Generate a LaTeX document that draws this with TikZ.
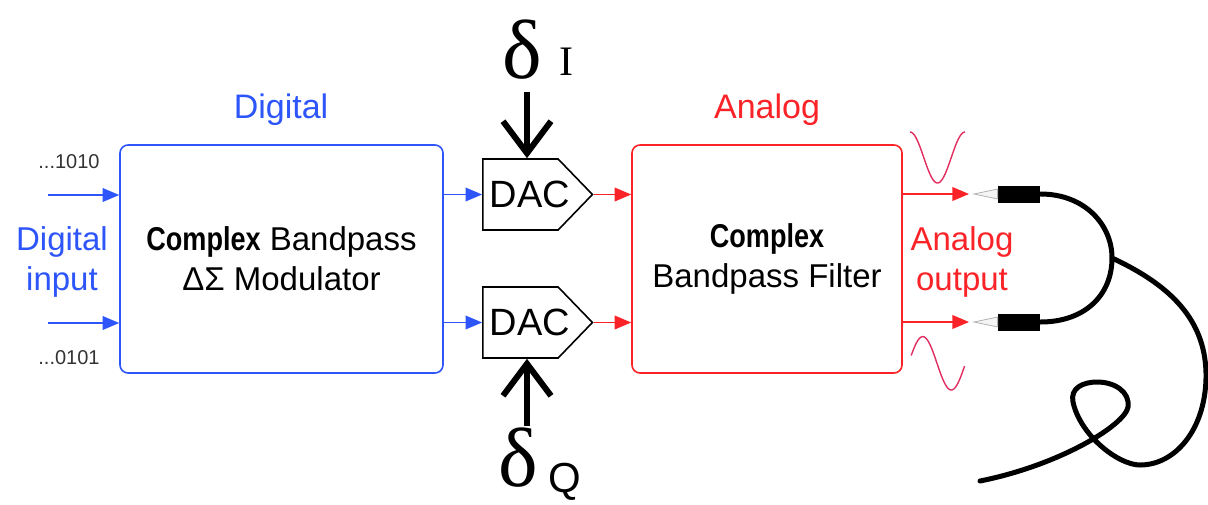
\documentclass[tikz,border=0pt]{standalone}
\usepackage{fontspec}
\setmainfont{Liberation Sans}
\newfontfamily\heavyfont{Liberation Sans}[FakeStretch=0.82]
\newfontfamily\serifgreek{Liberation Serif}
\usepackage{xcolor}
\usepackage{tikz}
\usetikzlibrary{arrows,arrows.meta,shapes.symbols}

\definecolor{digiblue}{RGB}{45,85,250}
\definecolor{anared}{RGB}{250,35,40}
\definecolor{wavered}{RGB}{225,45,95}

\newcommand{\cpx}{{\heavyfont\bfseries Complex}}
% the label runs on into the pointed end
\newcommand{\dactext}{DAC\kern-9.5pt}

\begin{document}
\begin{tikzpicture}[x=0.5pt,y=-0.5pt,
  block/.style={draw,rounded corners=4pt,line width=0.8pt,minimum height=114pt,
    align=center,font=\fontsize{16.5}{20}\selectfont},
  dac/.style={draw,signal,signal to=east,signal pointer angle=92,line width=0.8pt,
    minimum height=35.5pt,inner xsep=3.5pt,inner ysep=0pt,font=\fontsize{19}{19}\selectfont},
  heading/.style={font=\fontsize{17}{20}\selectfont},
  iotext/.style={align=center,font=\fontsize{16.5}{20}\selectfont},
  bits/.style={font=\fontsize{10}{12}\selectfont,text=black!80},
  sym/.style={inner sep=0pt,font=\fontsize{42}{42}\serifgreek},
  sub/.style={inner sep=0pt,font=\fontsize{21}{21}\selectfont},
  sig/.style={line width=0.9pt,->,>=triangle 45},
  ctrl/.style={line width=3pt,-{Straight Barb[length=16pt,width=24pt]}},
  plug/.style={fill=black,minimum width=21pt,minimum height=8.5pt,inner sep=0pt},
  pin/.style={draw=gray!60,fill=gray!8,line width=0.4pt},
  cable/.style={line width=2.5pt,line cap=round}]

\useasboundingbox (0,0) rectangle (1208,504);

\node[heading,text=digiblue] (digi) at (281,110) {Digital};
\node[heading,text=anared] (ana) at (767,110) {Analog};

\node[block,draw=digiblue,minimum width=161.5pt] (mod) at (281.5,259) {\cpx{} Bandpass\\ΔΣ Modulator};
\node[block,draw=anared,minimum width=135pt] (filt) at (767,259) {\cpx\\Bandpass Filter};

\node[dac] (dacI) at (520.5,194.5) {\dactext};
\node[dac] (dacQ) at (520.5,322.5) {\dactext};

% inputs
\node[bits] (bitsI) at (69,162) {...1010};
\node[bits] (bitsQ) at (69,358) {...0101};
\node[iotext,text=digiblue] (din) at (62,262) {Digital\\input};
\coordinate (inI) at (48,195);
\coordinate (inQ) at (48,323);
\draw[sig,digiblue] (inI) -- (mod.west |- inI);
\draw[sig,digiblue] (inQ) -- (mod.west |- inQ);

\draw[sig,digiblue] (mod.east |- dacI) -- (dacI.west);
\draw[sig,digiblue] (mod.east |- dacQ) -- (dacQ.west);
\draw[sig,anared] (dacI.east) -- (filt.west |- dacI);
\draw[sig,anared] (dacQ.east) -- (filt.west |- dacQ);

% dither
\node[sym] (dI) at (522,50) {δ};
\node[sub] (sI) at (566,62) {\serifgreek I};
\node[sym] (dQ) at (518,458) {δ};
\node[sub] (sQ) at (565,482) {Q};
\coordinate (ctrlI) at (527,92);
\coordinate (ctrlQ) at (527,426);
\draw[ctrl] (ctrlI) -- (ctrlI |- dacI.north);
\draw[ctrl] (ctrlQ) -- (ctrlQ |- dacQ.south);

% outputs
\node[iotext,text=anared] (aout) at (962,262) {Analog\\output};
\node[plug] (plugI) at (1019,194) {};
\node[plug] (plugQ) at (1019,322) {};
\coordinate (tipI) at (969,194);
\coordinate (tipQ) at (969,322);
\draw[sig,anared] (filt.east |- tipI) -- (tipI);
\draw[sig,anared] (filt.east |- tipQ) -- (tipQ);
\draw[pin] (974,194) -- ([yshift=2.5pt]plugI.west) -- ([yshift=-2.5pt]plugI.west) -- cycle;
\draw[pin] (974,322) -- ([yshift=2.5pt]plugQ.west) -- ([yshift=-2.5pt]plugQ.west) -- cycle;

\draw[wavered,line width=0.7pt] plot[domain=0:360,samples=50] ({910+\x/360*55},{157.5-25.5*cos(\x)});
\draw[wavered,line width=0.7pt] plot[domain=17:354,samples=50] ({908.5+\x/360*57},{363.3-26.7*sin(\x)});

% cable
\draw[cable] (plugI.east) .. controls (1085,194) and (1112,225) .. (1112,258) coordinate (split)
  .. controls (1112,295) and (1085,322) .. (plugQ.east);
\draw[cable] (split) .. controls (1170,285) and (1207,320) .. (1206,378)
  .. controls (1205,430) and (1175,465) .. (1140,465)
  .. controls (1118,465) and (1080,435) .. (1073,402)
  .. controls (1070,388) and (1083,382) .. (1097,382)
  .. controls (1115,382) and (1130,392) .. (1128,407)
  .. controls (1125,425) and (1060,465) .. (980,481);
\end{tikzpicture}
\end{document}
